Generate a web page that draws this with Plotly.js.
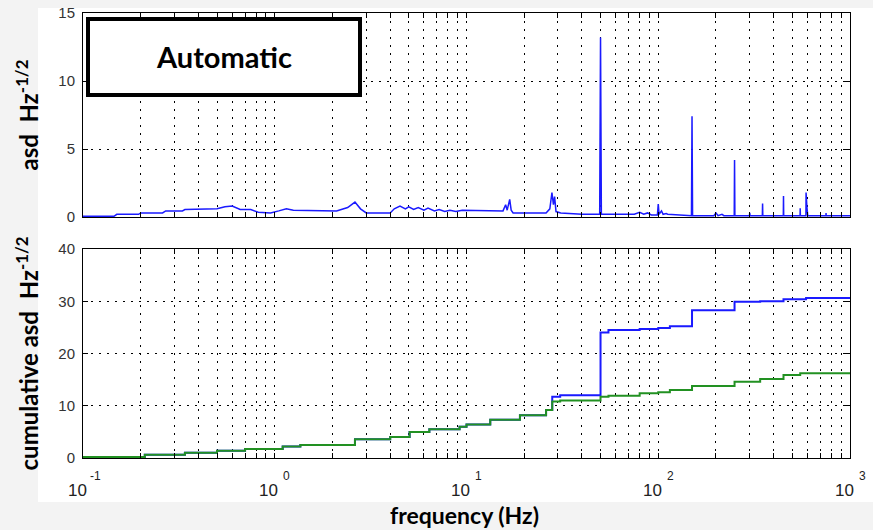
<!DOCTYPE html>
<html>
<head>
<meta charset="utf-8">
<script src="https://cdn.plot.ly/plotly-3.0.1.min.js"></script>
<style>html,body{margin:0;padding:0;background:#f3f3f3;}#chart{width:873px;height:530px;}</style>
</head>
<body>
<div id="chart"></div>
<script>
// ---- data ----
var asdFreq = [0.1,0.145,0.15,0.195,0.2,0.26,0.27,0.33,0.34,0.45,0.5,0.55,0.6,0.66,0.75,0.82,0.95,1.05,1.15,1.25,1.6,1.7,2.1,2.4,2.62,2.8,3.0,4.0,4.2,4.5,4.8,5.0,5.3,5.6,6.0,6.3,6.8,7.2,7.7,8.2,8.8,9.5,10.5,13,15.5,16,16.3,16.8,17.1,17.5,26,27.2,27.9,28.4,28.8,29.3,31,40,49.5,50,50.5,75,80,84,88,92,99,100,101,104,106,110,112,149,150,151,195,200,205,215,220,249,250,251,299,300,301,349,350,351,449,450,451,549,550,551,589,590,596,602,749,750,751,1000];
var asdValue = [0.05,0.05,0.2,0.2,0.3,0.3,0.45,0.45,0.55,0.55,0.6,0.75,0.8,0.55,0.55,0.35,0.3,0.45,0.6,0.5,0.5,0.45,0.45,0.7,1.1,0.6,0.3,0.3,0.6,0.8,0.6,0.75,0.55,0.7,0.5,0.65,0.45,0.55,0.4,0.5,0.4,0.5,0.5,0.45,0.45,0.9,0.5,1.3,0.5,0.3,0.3,0.6,1.8,0.9,1.5,0.4,0.3,0.2,0.2,13.2,0.2,0.2,0.35,0.2,0.3,0.15,0.15,0.95,0.2,0.45,0.2,0.25,0.2,0.1,7.4,0.1,0.1,0.3,0.1,0.2,0.1,0.1,4.2,0.1,0.1,0.3,0.1,0.1,1.0,0.1,0.1,1.55,0.1,0.1,0.65,0.1,0.1,1.8,0.75,0.1,0.1,0.3,0.1,0.1];

var cumFreq  = [0.1,0.21,0.34,0.5,0.7,1.1,1.36,2.62,4.0,5.05,6.4,9.2,10,13.3,19,26,28,30.8,50,55,80,100,115,150,250,340,450,550,590,1000];
var cumGreen = [0.2,0.6,1.0,1.4,1.7,2.2,2.5,3.6,4.0,5.0,5.5,6.0,6.4,7.3,8.2,9.2,10.8,11.0,11.7,11.9,12.4,12.6,13.0,13.8,14.6,15.1,15.9,16.2,16.2,16.2];
var cumBlue  = [0.2,0.6,1.0,1.4,1.7,2.2,2.5,3.6,4.0,5.0,5.5,6.0,6.4,7.3,8.2,9.2,11.7,12.0,24.0,24.5,24.7,24.9,25.2,28.3,29.9,30.0,30.4,30.4,30.6,30.6];

var xMajor = [0.1,1,10,100,1000];
var xExponent = ['-1','0','1','2','3'];
var xMinor = [0.2,0.3,0.4,0.5,0.6,0.7,0.8,0.9,2,3,4,5,6,7,8,9,20,30,40,50,60,70,80,90,200,300,400,500,600,700,800,900];
var yTopTicks = [0,5,10,15];
var yBotTicks = [0,10,20,30,40];

// ---- helpers ----
var W = 873, H = 530;
function px(x){ return x / W; }
function py(y){ return (H - y) / H; }
var xAll = xMajor.concat(xMinor);
var dotted = '1.5px,6.5px';
var tickFont = {family: 'Liberation Sans, Arial, sans-serif', size: 15, color: '#333333'};
var titleFont = {family: 'Lato, Open Sans, sans-serif', size: 24, color: '#000'};

function xAxis(anchor){
  return {
    type: 'log', range: [-1, 3], domain: [px(83), px(850)], anchor: anchor,
    tickmode: 'array', tickvals: xAll, showticklabels: false,
    ticks: 'inside', ticklen: 5, tickcolor: '#000', tickwidth: 1,
    showline: true, linecolor: '#000', linewidth: 1, mirror: 'ticks',
    showgrid: true, gridcolor: '#000', gridwidth: 1, griddash: dotted,
    zeroline: false
  };
}
function yAxis(anchor, dom, rng, tv, title){
  return {
    range: rng, domain: dom, anchor: anchor,
    tickmode: 'array', tickvals: tv, ticktext: tv.map(String),
    ticks: 'inside', ticklen: 5, tickcolor: '#000', tickwidth: 1,
    showline: true, linecolor: '#000', linewidth: 1, mirror: 'ticks',
    showgrid: true, gridcolor: '#000', gridwidth: 1, griddash: dotted,
    zeroline: false, tickfont: tickFont, ticklabelstandoff: 4,
    title: {text: title, font: titleFont, standoff: 12},
    automargin: false
  };
}

var traces = [
  {x: asdFreq, y: asdValue, xaxis: 'x', yaxis: 'y', type: 'scatter', mode: 'lines',
   line: {color: '#1a1aff', width: 1.5}, hoverinfo: 'skip'},
  {x: cumFreq, y: cumBlue, xaxis: 'x2', yaxis: 'y2', type: 'scatter', mode: 'lines',
   line: {color: '#1a1aff', width: 2, shape: 'hv'}, hoverinfo: 'skip'},
  {x: cumFreq, y: cumGreen, xaxis: 'x2', yaxis: 'y2', type: 'scatter', mode: 'lines',
   line: {color: '#229122', width: 2, shape: 'hv'}, hoverinfo: 'skip'}
];

var annotations = [];
xMajor.forEach(function(v, i){
  annotations.push({x: Math.log10(v), xref: 'x2', y: py(490), yref: 'paper', text: '10',
    showarrow: false, xanchor: 'center', yanchor: 'middle', xshift: -6,
    font: {family: 'Liberation Sans, Arial, sans-serif', size: 17, color: '#222'}});
  annotations.push({x: Math.log10(v), xref: 'x2', y: py(476), yref: 'paper', text: xExponent[i],
    showarrow: false, xanchor: 'center', yanchor: 'middle', xshift: 12,
    font: {family: 'Liberation Sans, Arial, sans-serif', size: 12, color: '#222'}});
});
annotations.push({x: px(224), y: py(57), xref: 'paper', yref: 'paper', text: '<b>Automatic</b>',
  showarrow: false, xanchor: 'center', yanchor: 'middle',
  font: {family: 'Lato, Open Sans, sans-serif', size: 29, color: '#000'}});
annotations.push({x: px(464), y: py(515), xref: 'paper', yref: 'paper', text: '<b>frequency (Hz)</b>',
  showarrow: false, xanchor: 'center', yanchor: 'middle',
  font: {family: 'Lato, Open Sans, sans-serif', size: 23, color: '#000'}});

var layout = {
  width: W, height: H,
  margin: {l: 0, r: 0, t: 0, b: 0},
  paper_bgcolor: '#f3f3f3', plot_bgcolor: '#ffffff',
  showlegend: false,
  xaxis: xAxis('y'),
  yaxis: yAxis('x', [py(217), py(13)], [0, 15], yTopTicks, '<b>asd  Hz<sup>-1/2</sup></b>'),
  xaxis2: xAxis('y2'),
  yaxis2: yAxis('x2', [py(458), py(249)], [0, 40], yBotTicks, '<b>cumulative asd  Hz<sup>-1/2</sup></b>'),
  shapes: [
    {type: 'rect', xref: 'paper', yref: 'paper', x0: px(38), x1: 1, y0: py(502), y1: py(8),
     fillcolor: '#ffffff', line: {width: 0}, layer: 'below'},
    {type: 'rect', xref: 'paper', yref: 'paper', x0: px(88), x1: px(360), y0: py(95), y1: py(19),
     fillcolor: '#ffffff', line: {color: '#000', width: 4}, layer: 'above'}
  ],
  annotations: annotations
};

Plotly.newPlot('chart', traces, layout, {staticPlot: true, displayModeBar: false});
</script>
</body>
</html>
